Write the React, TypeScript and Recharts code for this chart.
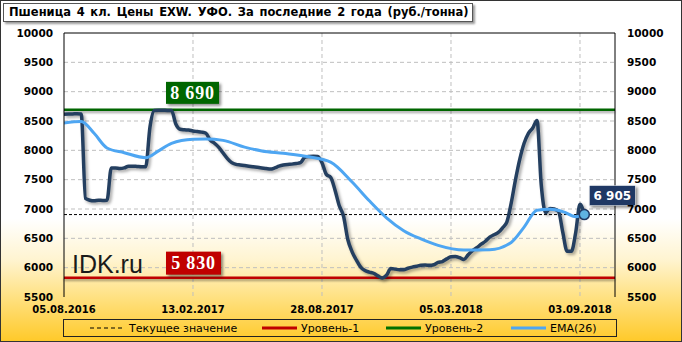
import {
    LineChart,
    Line,
    XAxis,
    YAxis,
    CartesianGrid,
    ReferenceLine,
    ReferenceDot,
} from "recharts";

// Подписи оси X (по индексу точки)
const tickIndex = [0, 30, 60, 90, 120];
const tickLabels = ["05.08.2016", "13.02.2017", "28.08.2017", "05.03.2018", "03.09.2018"];
const yTicks = [5500, 6000, 6500, 7000, 7500, 8000, 8500, 9000, 9500, 10000];

// Цена, руб./тонна (точка за точкой)
const price = [
    8614, 8618, 8620, 8625, 8620, 7180, 7150, 7140, 7150, 7145,
    7150, 7700, 7700, 7690, 7700, 7730, 7730, 7725, 7720, 7720,
    8400, 8680, 8685, 8685, 8680, 8680, 8450, 8360, 8350, 8345,
    8330, 8320, 8310, 8290, 8175, 8120, 8050, 7954, 7860, 7790,
    7760, 7750, 7740, 7730, 7720, 7710, 7700, 7690, 7680, 7700,
    7730, 7750, 7760, 7765, 7775, 7790, 7880, 7895, 7900, 7895,
    7790, 7590, 7540, 7330, 7060, 6880, 6480, 6270, 6130, 6010,
    5950, 5925, 5905, 5860, 5825, 5870, 5985, 5975, 5965, 5965,
    5990, 6010, 6025, 6040, 6045, 6040, 6050, 6090, 6105, 6150,
    6186, 6190, 6170, 6140, 6220, 6290, 6340, 6400, 6450, 6520,
    6560, 6600, 6680, 6780, 7100, 7500, 7850, 8120, 8290, 8380,
    8510, 7400, 6940, 7010, 7000, 6960, 6600, 6280, 6280, 6600,
    7080, 6905,
];

// EMA(26)
const emaIndex = [0, 4, 7, 10, 14, 19, 22, 25, 30, 33, 37, 42, 46, 51, 57, 62, 67, 71, 75, 79, 83, 87, 93, 99, 104, 107, 110, 113, 116, 119, 121];
const emaValues = [8465, 8490, 8290, 8040, 7960, 7875, 7990, 8120, 8190, 8195, 8170, 8055, 7990, 7950, 7890, 7800, 7460, 7140, 6850, 6630, 6490, 6380, 6300, 6305, 6430, 6690, 6980, 6995, 6955, 6870, 6905];

const currentValue = 6905;
const level1 = 5830;
const level2 = 8690;

const priceData = price.map((v, i) => ({ x: i, v }));
const emaData = emaIndex.map((x, i) => ({ x, v: emaValues[i] }));
const lastIndex = price.length - 1;

const fmt = (n: number) => n.toLocaleString("ru-RU").replace(/\s/g, " ");

const LevelBox = (props: any) => {
    const { viewBox, text, color, dx, dy, h, w } = props;
    const x = viewBox.x + dx;
    const y = viewBox.y - dy;
    return (
        <g>
            <rect x={x} y={y} width={w} height={h} fill={color} style={{ filter: "drop-shadow(2px 2px 1.5px rgba(0,0,0,0.45))" }} />
            <text
                x={x + w / 2}
                y={y + h / 2 + 6}
                textAnchor="middle"
                fill="#fff"
                fontFamily="Liberation Serif"
                fontWeight="bold"
                fontSize={18}
                letterSpacing={0.8}
            >
                {text}
            </text>
        </g>
    );
};

const CurrentBox = (props: any) => {
    const { viewBox } = props;
    const cx = viewBox.x + viewBox.width / 2;
    const cy = viewBox.y + viewBox.height / 2;
    const x = cx + 5;
    const y = cy - 29;
    return (
        <g>
            <rect x={x} y={y} width={46} height={20} fill="#1F3864" stroke="#fff" strokeWidth={0.5} style={{ filter: "drop-shadow(2px 2px 1.5px rgba(0,0,0,0.45))" }} />
            <text x={x + 23} y={y + 14.5} textAnchor="middle" fill="#fff" fontFamily="DejaVu Sans" fontWeight="bold" fontSize={12}>
                {fmt(currentValue)}
            </text>
        </g>
    );
};

// легенда: отступы иконок и подписей внутри рамки
const LegendItem = ({ left, kind, color, label }: { left: number; kind: string; color: string; label: string }) => (
    <div style={{ position: "absolute", left, top: 0, height: 16, display: "flex", alignItems: "center" }}>
        <svg width={35} height={6} style={{ marginRight: 4 }}>
            {kind === "dash" ? (
                <line x1={0} y1={3} x2={35} y2={3} stroke="#000" strokeWidth={1} strokeDasharray="4 3" />
            ) : (
                <line x1={0} y1={3} x2={35} y2={3} stroke={color} strokeWidth={3} />
            )}
        </svg>
        <span>{label}</span>
    </div>
);

const App = () => {
    const tickStyle = { fontFamily: "DejaVu Sans", fontWeight: "bold" as const, fontSize: 10.5, fill: "#000" };
    return (
        <div
            style={{
                position: "relative",
                width: 682,
                height: 342,
                background: "linear-gradient(to bottom, #ffffff 0%, #ffffff 64%, #fff4d0 76%, #ffdf7a 88%, #ffc928 100%)",
                fontFamily: "DejaVu Sans",
                overflow: "hidden",
            }}
        >
            <style>{`
                body { margin: 0; }
                .price-line .recharts-curve { filter: drop-shadow(2px 2px 1.5px rgba(0,0,0,0.35)); }
                line.lvl-line, .lvl-line > line { filter: drop-shadow(0px 2px 1.2px rgba(0,0,0,0.35)); }
            `}</style>

            <LineChart width={682} height={342} margin={{ top: 33, right: 0, bottom: 25, left: 0 }}>
                <CartesianGrid
                    yAxisId="left"
                    stroke="#bfbfbf"
                    strokeDasharray="4 3"
                    horizontalValues={[6000, 6500, 7000, 7500, 8000, 8500, 9000, 9500]}
                    verticalValues={[30, 60, 90, 120]}
                />
                <XAxis
                    type="number"
                    dataKey="x"
                    domain={[0, 128.14]}
                    ticks={tickIndex}
                    tickFormatter={(v) => tickLabels[tickIndex.indexOf(v)] ?? ""}
                    axisLine={false}
                    tickLine={false}
                    tickSize={6}
                    tickMargin={3}
                    height={20}
                    tick={{ ...tickStyle, fontSize: 10 }}
                    interval={0}
                    allowDataOverflow
                />
                <YAxis
                    yAxisId="left"
                    domain={[5500, 10000]}
                    ticks={yTicks}
                    width={64}
                    axisLine={{ stroke: "#000" }}
                    tickLine={false}
                    tickMargin={5}
                    tick={tickStyle}
                    interval={0}
                />
                <YAxis
                    yAxisId="right"
                    orientation="right"
                    domain={[5500, 10000]}
                    ticks={yTicks}
                    width={67}
                    axisLine={{ stroke: "#000" }}
                    tickLine={false}
                    tickMargin={6}
                    tick={tickStyle}
                    interval={0}
                />
                <ReferenceLine yAxisId="left" y={10000} stroke="#000" strokeWidth={1} />
                <ReferenceLine yAxisId="left" y={currentValue} stroke="#000" strokeWidth={1} strokeDasharray="3 2" />
                <ReferenceLine
                    yAxisId="left"
                    y={level2}
                    stroke="#006600"
                    strokeWidth={2.5}
                    className="lvl-line"
                    label={<LevelBox text={fmt(level2)} color="#006600" dx={102} dy={28} w={53} h={22} />}
                />
                <ReferenceLine
                    yAxisId="left"
                    y={level1}
                    stroke="#c00000"
                    strokeWidth={2.5}
                    className="lvl-line"
                    label={<LevelBox text={fmt(level1)} color="#c00000" dx={102} dy={26} w={55} h={23} />}
                />
                <Line
                    yAxisId="left"
                    data={priceData}
                    dataKey="v"
                    type="monotone"
                    stroke="#243f60"
                    strokeWidth={3.5}
                    dot={false}
                    className="price-line"
                    isAnimationActive={false}
                />
                <Line
                    yAxisId="right"
                    data={emaData}
                    dataKey="v"
                    type="monotone"
                    stroke="#4ea6f2"
                    strokeWidth={3}
                    dot={false}
                    isAnimationActive={false}
                />
                <ReferenceDot
                    yAxisId="left"
                    x={lastIndex}
                    y={currentValue}
                    r={5}
                    fill="#5fb3e3"
                    stroke="#1f3864"
                    strokeWidth={1.5}
                    label={<CurrentBox />}
                />
            </LineChart>

            <div
                style={{
                    position: "absolute",
                    left: 72,
                    top: 250,
                    fontFamily: "Liberation Sans",
                    fontSize: 25,
                    color: "#1a1a1a",
                    lineHeight: "28px",
                }}
            >
                IDK.ru
            </div>

            <div
                style={{
                    position: "absolute",
                    left: 3,
                    top: 3,
                    width: 470,
                    height: 19,
                    boxSizing: "border-box",
                    background: "#fff",
                    border: "1px solid #555",
                    boxShadow: "2px 2px 2px rgba(0,0,0,0.4)",
                    fontWeight: "bold",
                    fontSize: 11.5,
                    lineHeight: "17px",
                    paddingLeft: 5,
                    whiteSpace: "pre",
                    wordSpacing: 1.7,
                }}
            >
                Пшеница 4 кл. Цены EXW. УФО. За последние 2 года (руб./тонна)
            </div>

            <div
                style={{
                    position: "absolute",
                    left: 63,
                    top: 319,
                    width: 554,
                    height: 18,
                    boxSizing: "border-box",
                    border: "1px solid #222",
                    fontSize: 11,
                    color: "#000",
                }}
            >
                <LegendItem left={26} kind="dash" color="#000" label="Текущее значение" />
                <LegendItem left={198} kind="line" color="#c00000" label="Уровень-1" />
                <LegendItem left={322} kind="line" color="#007000" label="Уровень-2" />
                <LegendItem left={447} kind="line" color="#4ea6f2" label="EMA(26)" />
            </div>

            <div
                style={{
                    position: "absolute",
                    inset: 0,
                    border: "1px solid #333",
                    pointerEvents: "none",
                }}
            />
        </div>
    );
};

export default App;
